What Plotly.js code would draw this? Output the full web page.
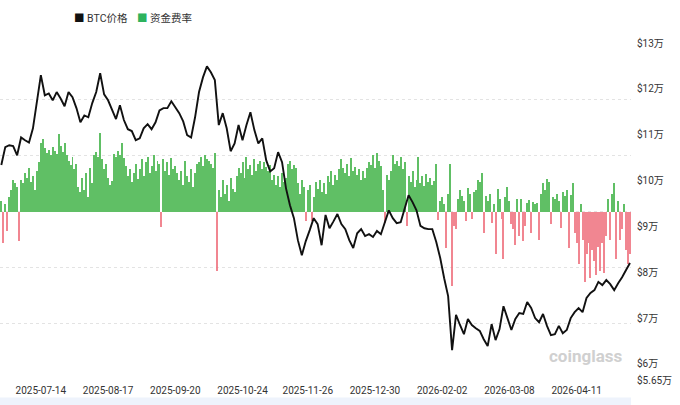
<!DOCTYPE html>
<html>
<head>
<meta charset="utf-8">
<script src="https://cdn.plot.ly/plotly-3.0.1.min.js"></script>
<style>
  html, body { margin: 0; padding: 0; background: #fff; }
  #chart { width: 680px; height: 405px; }
</style>
</head>
<body>
<div id="chart"></div>
<script>
// BTC price, thousands of USD, one reading every 2 days from 2025-06-24
const btcPriceK = [
    103.4, 107.3, 107.7, 107.5, 105.5, 109.4, 108.8, 108.3, 111.4, 117.3,
    123.0, 118.6, 119.0, 117.5, 119.3, 117.9, 116.2, 119.3, 118.2, 115.8,
    112.7, 114.2, 113.8, 116.9, 119.3, 123.4, 118.8, 117.5, 115.3, 113.4,
    116.4, 113.2, 111.2, 110.8, 108.8, 109.2, 111.4, 112.3, 111.2, 112.7,
    115.3, 115.8, 115.8, 117.3, 116.0, 114.7, 112.9, 109.9, 109.4, 113.8,
    119.3, 122.5, 124.9, 123.6, 121.9, 112.1, 114.7, 111.4, 106.4, 108.1,
    112.1, 108.8, 112.1, 114.9, 111.0, 108.1, 109.2, 104.4, 102.0, 102.7,
    106.2, 104.0, 98.3, 94.6, 91.8, 87.0, 83.7, 86.8, 89.2, 91.8,
    90.5, 85.9, 92.5, 89.6, 91.1, 92.7, 90.5, 89.4, 87.0, 85.3,
    88.5, 89.4, 87.9, 88.3, 87.7, 89.0, 88.3, 90.7, 93.5, 91.8,
    90.7, 90.9, 94.0, 96.8, 95.3, 93.5, 90.1, 89.6, 89.4, 89.4,
    86.6, 83.1, 78.7, 74.8, 63.0, 70.7, 68.5, 66.5, 69.8, 68.5,
    67.8, 67.2, 65.4, 63.9, 68.7, 65.2, 67.6, 72.6, 70.0, 67.4,
    69.8, 71.1, 70.9, 73.5, 72.2, 70.0, 69.1, 70.9, 68.3, 66.3,
    66.5, 68.3, 66.7, 67.4, 70.0, 71.3, 72.2, 71.3, 74.4, 75.5,
    76.1, 77.9, 77.2, 78.3, 77.4, 76.1, 77.6, 78.9, 80.5, 82.0
];

// funding rate in %, one reading per day from 2025-06-24
const fundingRate = [
    0.0015, -0.0045, 0.0010, -0.0028, 0.0020, 0.0030, 0.0045, 0.0040, 0.0035, -0.0042,
    0.0045, 0.0040, 0.0055, 0.0048, 0.0062, 0.0042, 0.0050, 0.0030, 0.0058, 0.0070,
    0.0098, 0.0103, 0.0090, 0.0084, 0.0088, 0.0080, 0.0092, 0.0086, 0.0082, 0.0110,
    0.0094, 0.0085, 0.0098, 0.0080, 0.0072, 0.0066, 0.0078, 0.0060, 0.0068, 0.0035,
    0.0028, 0.0048, 0.0030, 0.0055, 0.0020, 0.0062, 0.0040, 0.0080, 0.0085, 0.0078,
    0.0112, 0.0075, 0.0060, 0.0068, 0.0048, 0.0038, 0.0044, 0.0082, 0.0078, 0.0086,
    0.0080, 0.0098, 0.0076, 0.0065, 0.0050, 0.0060, 0.0042, 0.0055, 0.0068, 0.0046,
    0.0060, 0.0075, 0.0050, 0.0070, 0.0078, 0.0055, 0.0065, 0.0080, 0.0058, 0.0072,
    0.0068, -0.0022, 0.0075, 0.0058, 0.0070, 0.0052, 0.0076, 0.0060, 0.0065, 0.0055,
    0.0045, 0.0058, 0.0038, 0.0072, 0.0050, 0.0042, 0.0060, 0.0035, 0.0055, 0.0068,
    0.0070, 0.0078, 0.0065, 0.0080, 0.0075, 0.0072, 0.0068, 0.0062, 0.0084, -0.0085,
    0.0030, 0.0020, 0.0045, 0.0025, 0.0038, 0.0015, 0.0048, 0.0032, 0.0028, 0.0050,
    0.0062, 0.0055, 0.0070, 0.0048, 0.0078, 0.0060, 0.0066, 0.0052, 0.0075, 0.0058,
    0.0068, 0.0072, 0.0060, 0.0070, 0.0064, 0.0058, 0.0066, 0.0045, 0.0052, 0.0038,
    0.0050, 0.0035, 0.0055, 0.0042, 0.0048, 0.0068, 0.0072, 0.0060, 0.0066, 0.0062,
    0.0040, 0.0025, 0.0045, 0.0035, -0.0013, 0.0030, 0.0038, -0.0014, 0.0020, 0.0042,
    0.0032, 0.0045, 0.0028, 0.0040, 0.0025, 0.0050, 0.0042, 0.0058, 0.0038, 0.0052,
    0.0045, 0.0060, 0.0075, 0.0062, 0.0055, 0.0068, 0.0050, 0.0076, 0.0058, 0.0064,
    0.0052, 0.0060, 0.0045, 0.0058, 0.0048, 0.0062, 0.0070, 0.0066, 0.0080, 0.0062,
    0.0084, 0.0072, 0.0065, 0.0030, -0.0016, 0.0052, 0.0045, 0.0058, 0.0080, 0.0068,
    0.0072, 0.0065, 0.0078, 0.0060, 0.0070, -0.0020, 0.0050, 0.0042, 0.0058, 0.0035,
    0.0045, 0.0077, 0.0040, 0.0050, 0.0036, 0.0053, 0.0042, 0.0048, 0.0038, 0.0044,
    0.0067, -0.0012, 0.0015, 0.0020, 0.0010, -0.0052, 0.0025, 0.0067, -0.0106, -0.0020,
    -0.0025, 0.0018, 0.0030, 0.0022, 0.0015, -0.0013, 0.0033, 0.0025, -0.0010, 0.0028,
    0.0030, 0.0045, 0.0042, 0.0055, -0.0030, 0.0022, 0.0015, 0.0025, -0.0016, 0.0010,
    -0.0060, 0.0032, 0.0018, -0.0011, -0.0068, 0.0020, 0.0035, 0.0015, -0.0018, -0.0025,
    -0.0048, 0.0018, -0.0035, 0.0018, -0.0042, -0.0020, 0.0012, 0.0016, -0.0030, 0.0014,
    0.0010, 0.0012, -0.0040, 0.0025, 0.0040, 0.0030, 0.0047, 0.0042, -0.0018, 0.0020,
    0.0018, 0.0025, 0.0015, -0.0023, 0.0028, 0.0022, 0.0030, -0.0052, 0.0024, 0.0040,
    -0.0030, -0.0045, -0.0075, 0.0010, -0.0040, -0.0100, -0.0060, -0.0045, -0.0095, -0.0055,
    -0.0070, -0.0090, -0.0050, -0.0085, -0.0045, -0.0088, -0.0035, 0.0018, -0.0040, 0.0025,
    0.0040, -0.0067, 0.0015, -0.0040, -0.0025, 0.0010, -0.0055, -0.0075, -0.0060
];

const xTickDates = ['2025-07-14', '2025-08-17', '2025-09-20', '2025-10-24', '2025-11-26',
    '2025-12-30', '2026-02-02', '2026-03-08', '2026-04-11'];
const priceTicks = [56.5, 60, 70, 80, 90, 100, 110, 120, 130];
const priceTickText = ['$5.65万', '$6万', '$7万', '$8万', '$9万', '$10万', '$11万', '$12万', '$13万'];

function dayAfterStart(n) {
    let d = new Date(Date.UTC(2025, 5, 24));
    d.setUTCDate(d.getUTCDate() + n);
    return d.toISOString().slice(0, 10);
}

let fundingDates = fundingRate.map((v, i) => dayAfterStart(i));
let priceDates = btcPriceK.map((v, i) => dayAfterStart(i * 2));

let fundingTrace = {
    type: 'bar',
    x: fundingDates,
    y: fundingRate,
    yaxis: 'y',
    marker: {
        color: fundingRate.map((v) => v >= 0 ? 'rgb(96,191,101)' : 'rgba(238,104,118,0.8)'),
        line: { width: 0 }
    },
    hoverinfo: 'skip'
};

let priceTrace = {
    type: 'scatter',
    mode: 'lines',
    x: priceDates,
    y: btcPriceK,
    yaxis: 'y2',
    line: { color: '#111', width: 1.9 }
};

const legendFont = 'Roboto, "Noto Sans CJK SC", sans-serif';

let layout = {
    width: 680,
    height: 405,
    margin: { l: 0, r: 49, t: 43, b: 25 },
    paper_bgcolor: '#fff',
    plot_bgcolor: '#fff',
    font: { family: 'Roboto, "Noto Sans CJK SC", sans-serif', size: 10, color: '#333' },
    bargap: 0,
    showlegend: false,
    xaxis: {
        type: 'date',
        range: ['2025-06-23 08:00', '2026-05-08 12:00'],
        tickvals: xTickDates,
        tickformat: '%Y-%m-%d',
        showgrid: false,
        zeroline: false,
        showline: false,
        ticks: '',
        ticklabelstandoff: 3,
        tickfont: { size: 10, color: '#333' }
    },
    yaxis: {
        range: [-0.024, 0.024],
        tickmode: 'linear',
        tick0: 0,
        dtick: 0.008,
        showticklabels: false,
        showgrid: true,
        gridcolor: '#e3e3e3',
        griddash: 'dot',
        zeroline: false,
        ticks: ''
    },
    yaxis2: {
        overlaying: 'y',
        side: 'right',
        range: [56.5, 130],
        tickvals: priceTicks,
        ticktext: priceTickText,
        showgrid: false,
        zeroline: false,
        ticks: '',
        ticklabelstandoff: 5,
        tickfont: { size: 10, color: '#333' }
    },
    shapes: [{
        type: 'rect', xref: 'paper', yref: 'paper',
        x0: 0, x1: 1, y0: -0.075, y1: -0.052,
        fillcolor: '#eef3fc', line: { width: 0 }, layer: 'below'
    }],
    annotations: [
        {
            // legend: BTC price
            text: '<span style="color:#111">■</span> BTC价格',
            xref: 'paper', yref: 'paper', x: 72 / 631, y: 1.074,
            xanchor: 'left', yanchor: 'middle', showarrow: false,
            font: { size: 10.5, color: '#333', family: legendFont }
        },
        {
            // legend: funding rate
            text: '<span style="color:#2db35d">■</span> 资金费率',
            xref: 'paper', yref: 'paper', x: 135 / 631, y: 1.074,
            xanchor: 'left', yanchor: 'middle', showarrow: false,
            font: { size: 10.5, color: '#333', family: legendFont }
        },
        {
            text: 'coinglass', xref: 'paper', yref: 'paper',
            x: 0.99, y: 0.07, xanchor: 'right', yanchor: 'middle',
            showarrow: false,
            font: { size: 17, color: '#d0d0d0', family: 'Roboto, sans-serif', weight: 'bold' }
        }
    ]
};

Plotly.newPlot('chart', [fundingTrace, priceTrace], layout, {
    displayModeBar: false,
    staticPlot: true
});
</script>
</body>
</html>
